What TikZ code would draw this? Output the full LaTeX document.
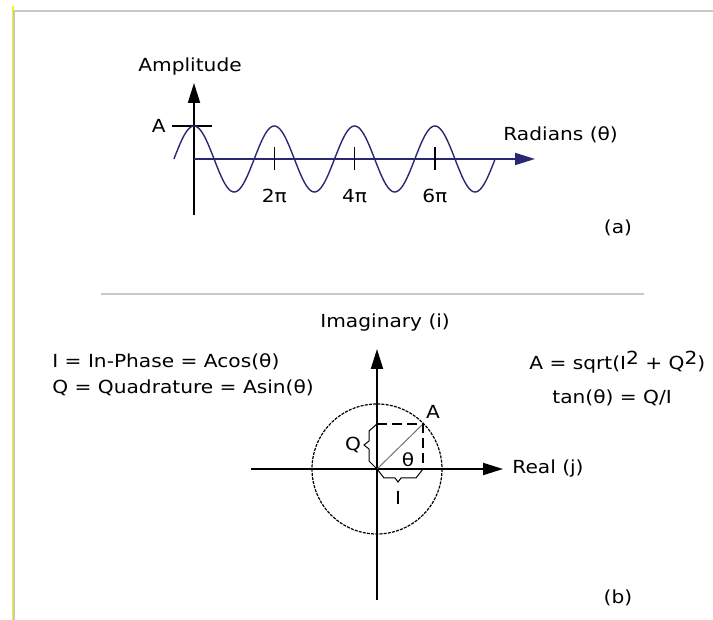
\documentclass[tikz,border=0pt]{standalone}
\usepackage{fontspec}
\setmainfont{DejaVu Sans}[FakeStretch=1.12]
\usetikzlibrary{arrows.meta, positioning}
\definecolor{navyline}{RGB}{40,40,115}
\definecolor{framegrey}{RGB}{200,200,200}
\definecolor{frameyellow}{RGB}{255,242,0}
\newcommand{\sqz}[1]{\raisebox{0.55ex}{#1}}

\begin{document}
\begin{tikzpicture}[
        x=0.5pt, y=-0.5pt,
        lbl/.style={inner sep=0pt, font=\fontsize{9}{11}\selectfont},
        axis/.style={line width=1pt, -{Triangle[length=10pt, width=6pt]}},
        plain_line/.style={line width=1pt},
        wave/.style={navyline, line width=0.7pt},
        tick/.style={line width=0.7pt},
        frame/.style={framegrey, line width=1pt},
        dash_line/.style={line width=1pt, dash pattern=on 5pt off 2.5pt},
        ring/.style={line width=0.6pt, dash pattern=on 1.5pt off 0.6pt},
        brace/.style={line width=0.5pt}
    ]%
    \useasboundingbox (0,0) rectangle (713,620);
    %
    % Frame of the page
    \coordinate (fy_top) at (12.5,6);
    \coordinate (fy_bot) at (12.5,620);
    \coordinate (fg_corner) at (14,11);
    \coordinate (fg_right) at (713,11);
    \coordinate (fg_bot) at (14,620);
    \draw[frameyellow, line width=1pt] (fy_top) -- (fy_bot);
    \draw[frame] (fg_right) -- (fg_corner) -- (fg_bot);
    %
    % === (a) Time signal ===
    \coordinate (o_a) at (194,159);
    \coordinate (amp_bot) at (194,215);
    \coordinate (amp_tip) at (194,83);
    \coordinate (rad_tip) at (535,159);
    \draw[axis] (amp_bot) -- (amp_tip);
    \draw[axis, navyline] (o_a) -- (rad_tip);
    \node[lbl, anchor=west] (amp) at (138,67) {Amplitude};
    \node[lbl, anchor=west] (rad) at (503,135) {Radians (θ)};
    %
    % Amplitude mark
    \coordinate (a_left) at (172,126);
    \coordinate (a_right) at (212,126);
    \draw[tick] (a_left) -- (a_right);
    \node[lbl, anchor=east] (a_mark) at (166,126) {A};
    %
    % Cosine wave
    \draw[wave] plot[domain=-0.25:3.75, samples=241] ({194+80.3*\x}, {159-33*cos(360*\x)});
    %
    % Ticks
    \foreach \k/\name in {1/2π, 2/4π, 3/6π}{
        \coordinate (tk_top\k) at ({194+80.3*\k},147);
        \coordinate (tk_bot\k) at ({194+80.3*\k},170);
        \draw[tick] (tk_top\k) -- (tk_bot\k);
        \node[lbl] (tk_lbl\k) at ({194+80.3*\k},196) {\name};
    }
    \node[lbl] (cap_a) at (618,228) {(a)};
    %
    % Divider
    \coordinate (div_l) at (101,294);
    \coordinate (div_r) at (644,294);
    \draw[frame] (div_l) -- (div_r);
    %
    % === (b) Phasor ===
    \coordinate (o_b) at (377,469);
    \coordinate (im_bot) at (377,600);
    \coordinate (im_tip) at (377,349);
    \coordinate (re_left) at (251,469);
    \coordinate (re_tip) at (503,469);
    \draw[axis] (im_bot) -- (im_tip);
    \draw[axis] (re_left) -- (re_tip);
    \node[lbl, anchor=west] (imag) at (320,323) {Imaginary (i)};
    \node[lbl, anchor=west] (real) at (512,469) {Real (j)};
    %
    % Unit circle and vector
    \draw[ring] (o_b) circle[radius=65];
    \coordinate (pt_a) at (423,424);
    \coordinate (q_foot) at (377,424);
    \coordinate (i_foot) at (423,469);
    \draw[black!55, line width=0.5pt] (o_b) -- (pt_a);
    \draw[dash_line] (q_foot) -- (pt_a) -- (i_foot);
    \node[lbl] (a_vec) at (433,412) {A};
    \node[lbl] (theta) at (408,460) {θ};
    %
    % Braces for Q and I
    \draw[brace] (q_foot) -- (369,431) -- (369,441) -- (364,445) -- (369,449) -- (369,461) -- (o_b);
    \draw[brace] (o_b) -- (384,478) -- (395,478) -- (398,482) -- (401,478) -- (416,478) -- (i_foot);
    \node[lbl] (q_lbl) at (353,445) {Q};
    \node[lbl] (i_lbl) at (398,498) {I};
    %
    % Formulas
    \node[lbl, anchor=west] (f_i) at (52,362) {I = In-Phase = Acos(θ)};
    \node[lbl, anchor=west] (f_q) at (52,388) {Q = Quadrature = Asin(θ)};
    \node[lbl, anchor=west] (f_a) at (529,362) {A = sqrt(I\sqz{2} + Q\sqz{2})};
    \node[lbl, anchor=west] (f_t) at (552,398) {tan(θ) = Q/I};
    \node[lbl] (cap_b) at (618,598) {(b)};
\end{tikzpicture}
\end{document}
